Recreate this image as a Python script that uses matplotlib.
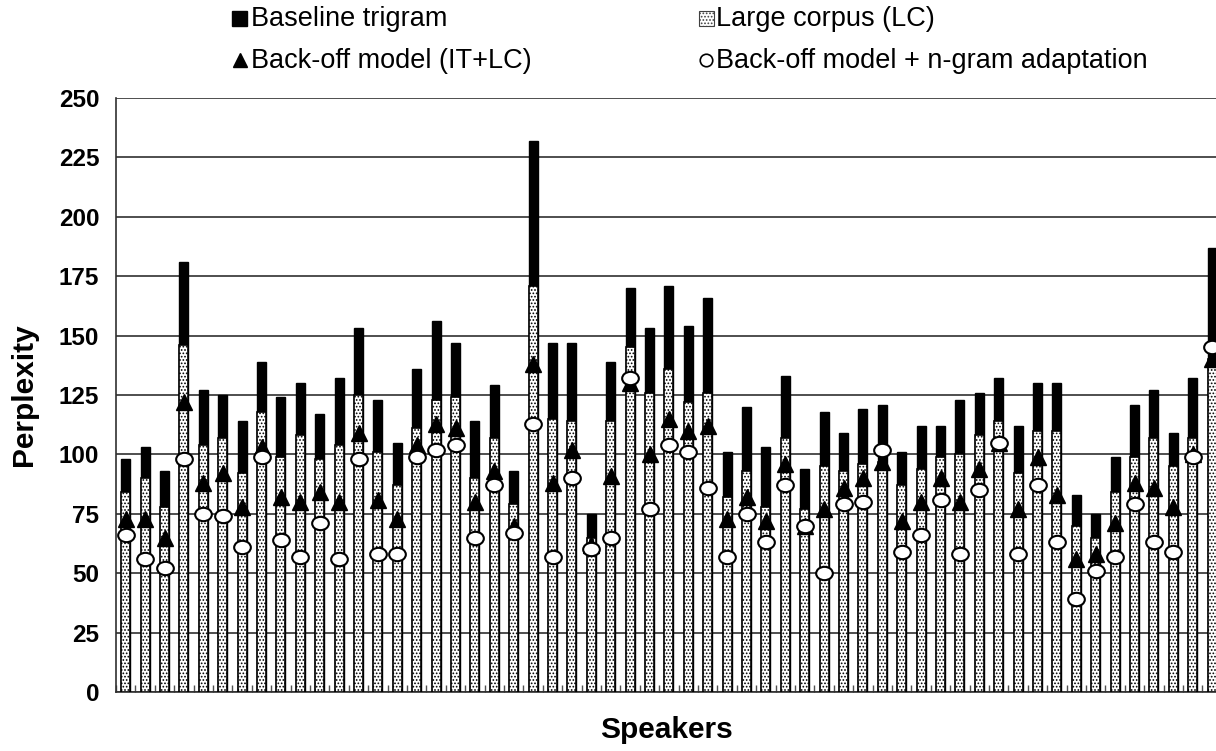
import matplotlib
matplotlib.use("Agg")
import matplotlib.pyplot as plt
import numpy as np
from matplotlib.path import Path
from matplotlib.patches import Rectangle
from matplotlib.lines import Line2D
import matplotlib.transforms as mtransforms

plt.rcParams['font.family'] = ['Liberation Sans', 'DejaVu Sans']
plt.rcParams['hatch.color'] = '#707070'
plt.rcParams['hatch.linewidth'] = 0.8

baseline = [98, 103, 93, 181, 127, 125, 114, 139, 124, 130, 117, 132, 153, 123, 105, 136, 156, 147, 114, 129,
            93, 232, 147, 147, 75, 139, 170, 153, 171, 154, 166, 101, 120, 103, 133, 94, 118, 109, 119, 121,
            101, 112, 112, 123, 126, 132, 112, 130, 130, 83, 75, 99, 121, 127, 109, 132, 187]
large_corpus = [84, 90, 78, 146, 104, 107, 92, 118, 99, 108, 98, 104, 125, 101, 87, 111, 123, 124, 90, 107,
                79, 171, 115, 114, 65, 114, 145, 126, 136, 122, 126, 82, 93, 78, 107, 77, 95, 93, 96, 97,
                87, 94, 99, 100, 108, 114, 92, 110, 110, 70, 65, 84, 99, 107, 95, 107, 140]
backoff = [73, 73, 65, 122, 88, 92, 78, 103, 82, 80, 84, 80, 109, 81, 73, 104, 113, 111, 80, 93,
           70, 138, 88, 102, 62, 91, 130, 100, 115, 110, 112, 73, 82, 72, 96, 70, 77, 86, 90, 97,
           72, 80, 90, 80, 94, 105, 77, 99, 83, 56, 58, 71, 88, 86, 78, 100, 140]
adapted = [66, 56, 52, 98, 75, 74, 61, 99, 64, 57, 71, 56, 98, 58, 58, 99, 102, 104, 65, 87,
           67, 113, 57, 90, 60, 65, 132, 77, 104, 101, 86, 57, 75, 63, 87, 70, 50, 79, 80, 102,
           59, 66, 81, 58, 85, 105, 58, 87, 63, 39, 51, 57, 79, 63, 59, 99, 145]
yticks = [0, 25, 50, 75, 100, 125, 150, 175, 200, 225, 250]

W, H = 1216, 751
fig = plt.figure(figsize=(W / 100, H / 100), dpi=100)
ax = fig.add_axes([116 / W, 1 - 692 / H, 1 - 116 / W, (692 - 98) / H])

x = np.arange(len(baseline))
bw = 0.46
ax.bar(x, baseline, width=bw, color='black', edgecolor='black', linewidth=1.0, zorder=3)
ax.bar(x, large_corpus, width=bw, color='white', edgecolor='black', linewidth=1.2,
       hatch='.....', zorder=4)

ell = Path.unit_circle().transformed(mtransforms.Affine2D().scale(1.0, 0.8))
ax.plot(x, backoff, linestyle='none', marker='^', markersize=11, color='black', zorder=5, clip_on=False)
ax.plot(x, adapted, linestyle='none', marker=ell, markersize=12, markerfacecolor='white',
        markeredgecolor='black', markeredgewidth=1.5, zorder=6, clip_on=False)

ax.set_xlim(-0.5, 56.2)
ax.set_ylim(0, 250)
ax.set_yticks(yticks)
ax.set_yticklabels([str(v) for v in yticks], fontsize=17.5, fontweight='bold')
ax.yaxis.grid(True, color='#303030', linewidth=1.2, zorder=0)
ax.set_axisbelow(True)
ax.tick_params(axis='y', length=0, pad=12)
ax.set_xticks(np.arange(-0.5, 56.5, 1.0))
ax.set_xticklabels([])
ax.tick_params(axis='x', direction='in', length=5, width=1, color='#505050')
for s in ['top', 'right']:
    ax.spines[s].set_visible(False)
ax.spines['left'].set_color('#303030')
ax.spines['bottom'].set_color('#303030')
ax.spines['left'].set_linewidth(1.2)
ax.spines['bottom'].set_linewidth(1.2)

ax.set_ylabel('Perplexity', fontsize=21.5, fontweight='bold')
ax.yaxis.set_label_coords(-78 / 1100, 0.5)
ax.set_xlabel('Speakers', fontsize=21.5, fontweight='bold')
ax.xaxis.set_label_coords(0.5, -(730 - 692) / 594)
ax.xaxis.label.set_va('center')

# Legend (manual, two columns)
fs = 19.5
def fx(px):
    return px / W
def fy(py):
    return 1 - py / H

fig.add_artist(Rectangle((fx(232), fy(26)), 15 / W, 15 / H, transform=fig.transFigure,
                         facecolor='black', edgecolor='black'))
fig.text(fx(251), fy(19), 'Baseline trigram', fontsize=fs, va='center', ha='left')
fig.add_artist(Rectangle((fx(699), fy(26)), 15 / W, 15 / H, transform=fig.transFigure,
                         facecolor='white', edgecolor='#404040', hatch='.....', linewidth=0.8))
fig.text(fx(716), fy(19), 'Large corpus (LC)', fontsize=fs, va='center', ha='left')
fig.add_artist(Line2D([fx(240)], [fy(60)], transform=fig.transFigure, marker='^', markersize=10,
                      color='black', linestyle='none'))
fig.text(fx(251), fy(61), 'Back-off model (IT+LC)', fontsize=fs, va='center', ha='left')
fig.add_artist(Line2D([fx(706)], [fy(60)], transform=fig.transFigure, marker='o', markersize=9,
                      markerfacecolor='white', markeredgecolor='black', markeredgewidth=1.2,
                      linestyle='none'))
fig.text(fx(716), fy(61), 'Back-off model + n-gram adaptation', fontsize=fs, va='center', ha='left')

fig.savefig('out.png', dpi=100)
